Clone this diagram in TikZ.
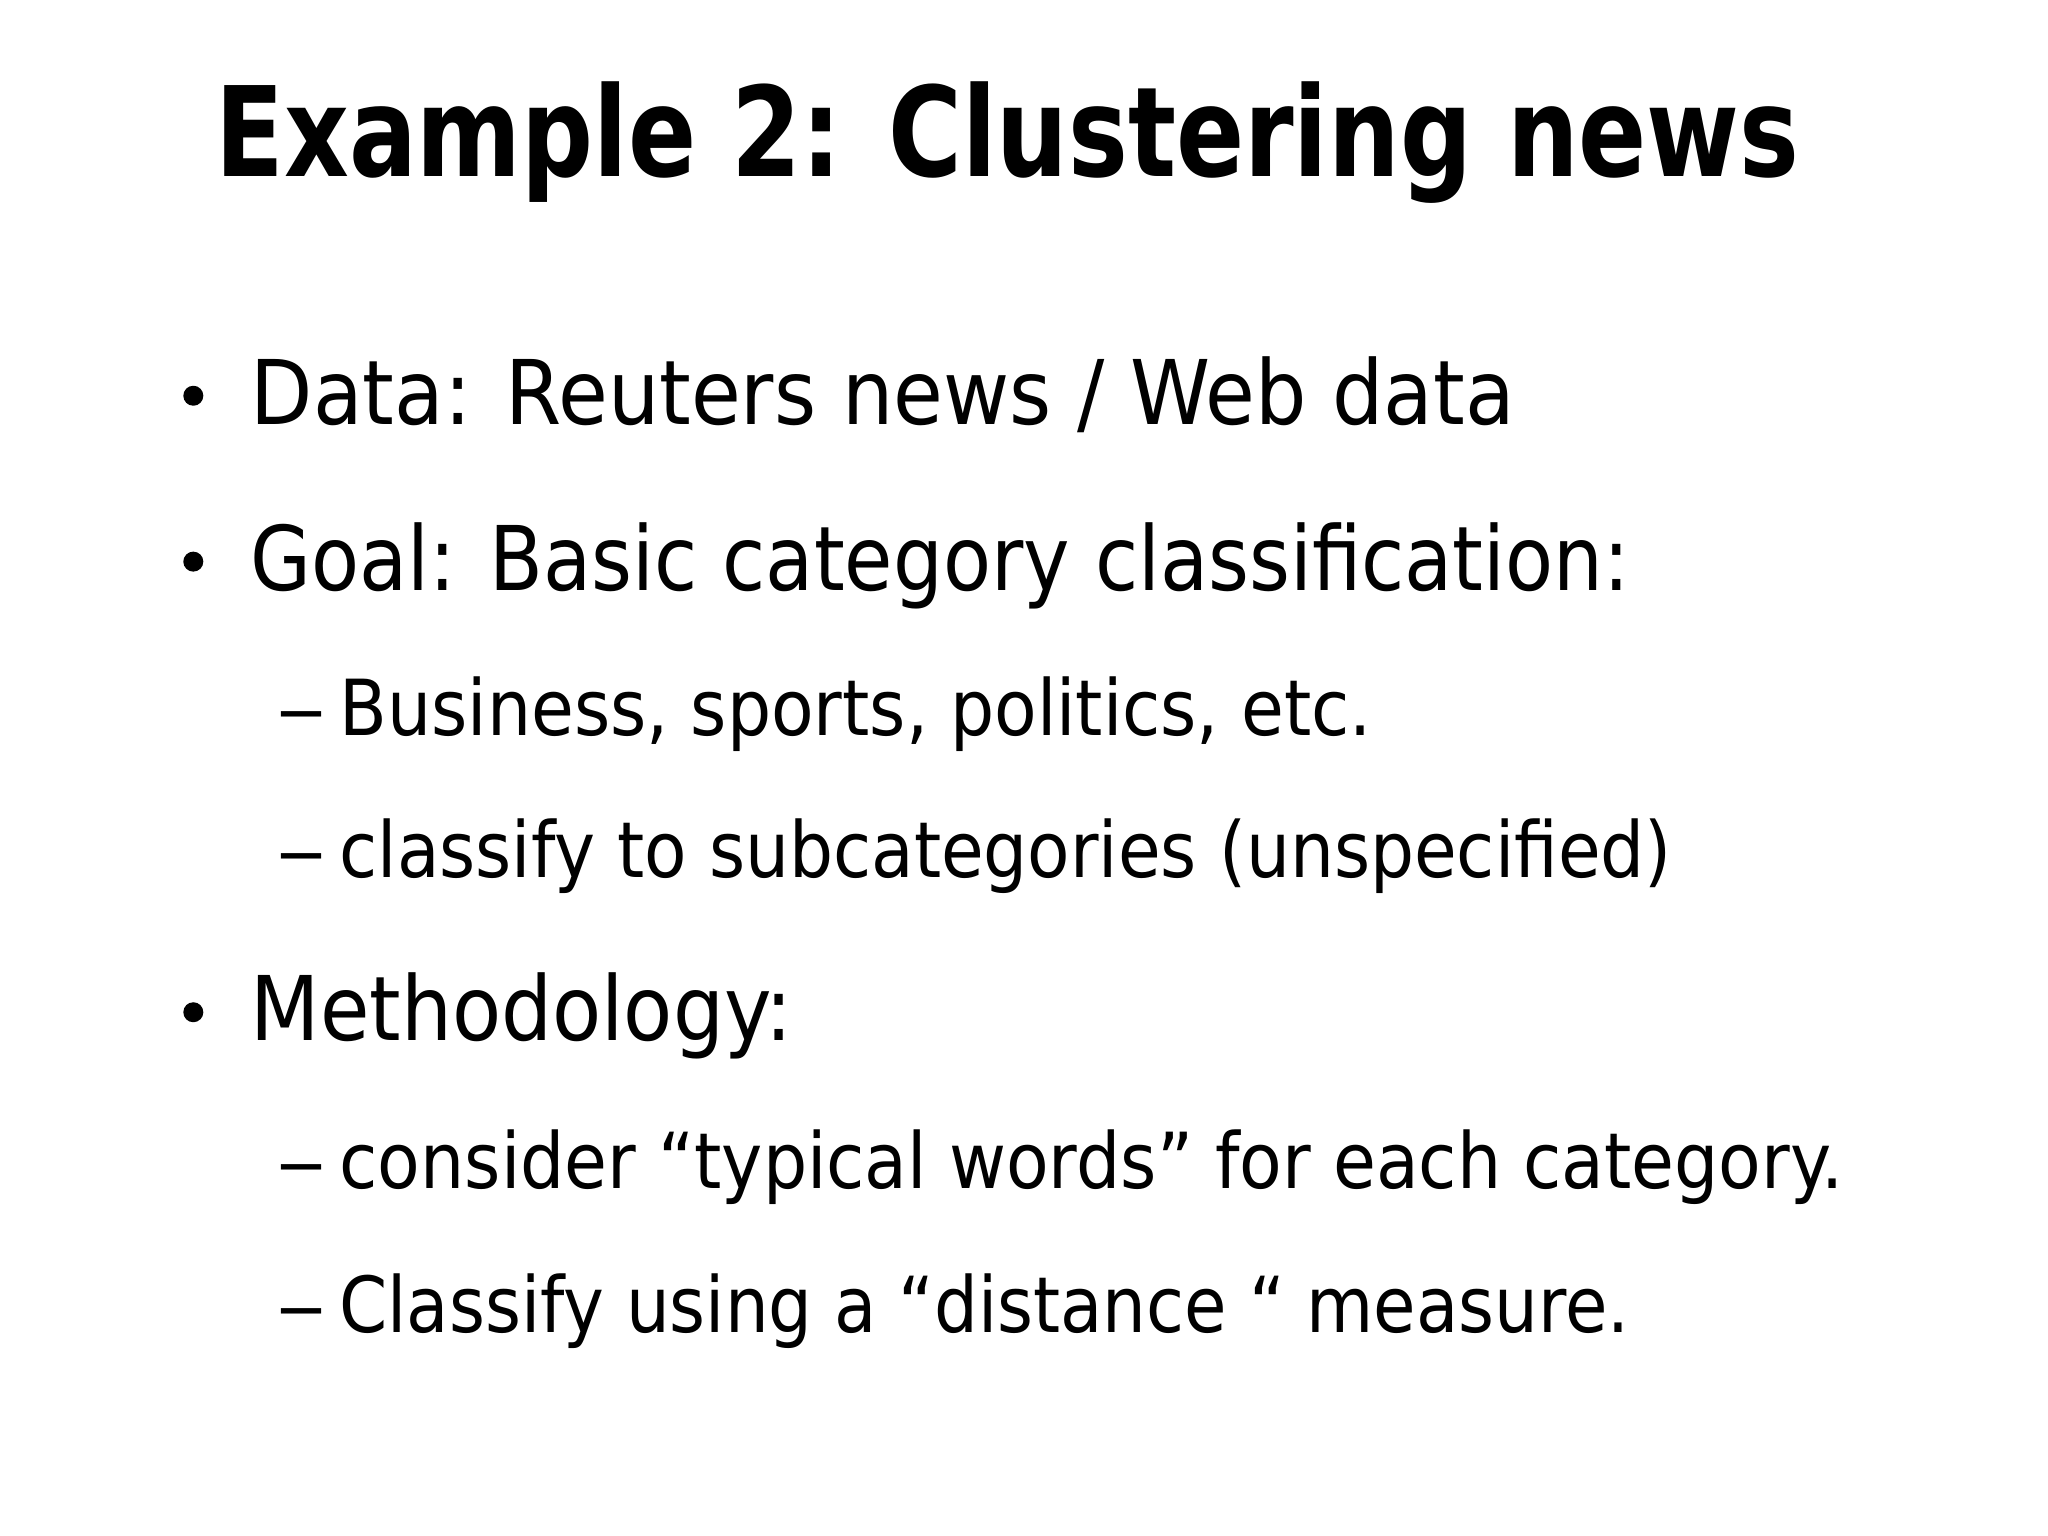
\documentclass[tikz,border=0pt]{standalone}
\usepackage{fontspec}
\setmainfont{DejaVu Sans}
\usepackage{graphicx}
\begin{document}
\begin{tikzpicture}[x=0.01306cm,y=-0.01306cm,
  txt/.style={anchor=base west,inner sep=0pt,outer sep=0pt},
  big/.style={txt,font=\fontsize{25.4}{30}\selectfont},
  small/.style={txt,font=\fontsize{22}{26}\selectfont},
  bul/.style={circle,fill=black,inner sep=0pt,minimum size=0.2cm}]
\useasboundingbox (0,0) rectangle (1568,1176);
\node[txt,font=\fontsize{35.5}{40}\bfseries\selectfont] (title) at (165,135) {\resizebox{15.84cm}{\height}{Example 2: Clustering news}};
\node[bul] (b1) at (148,303) {};
\node[big] (l1) at (192,325) {\resizebox{12.64cm}{\height}{Data: Reuters news / Web data}};
\node[bul] (b2) at (148,430) {};
\node[big] (l2) at (192,452) {\resizebox{13.79cm}{\height}{Goal: Basic category classification:}};
\node[small] (d1) at (212,563) {\resizebox{0.5cm}{\height}{–}};
\node[small] (s1) at (260,563) {\resizebox{10.32cm}{\height}{Business, sports, politics, etc.}};
\node[small] (d2) at (212,672) {\resizebox{0.5cm}{\height}{–}};
\node[small] (s2) at (260,672) {\resizebox{13.32cm}{\height}{classify to subcategories (unspecified)}};
\node[bul] (b3) at (148,775) {};
\node[big] (l3) at (192,797) {\resizebox{5.42cm}{\height}{Methodology:}};
\node[small] (d3) at (212,910) {\resizebox{0.5cm}{\height}{–}};
\node[small] (s3) at (260,910) {\resizebox{15.04cm}{\height}{consider “typical words” for each category.}};
\node[small] (d4) at (212,1020) {\resizebox{0.5cm}{\height}{–}};
\node[small] (s4) at (260,1020) {\resizebox{12.90cm}{\height}{Classify using a “distance “ measure.}};
\end{tikzpicture}
\end{document}
